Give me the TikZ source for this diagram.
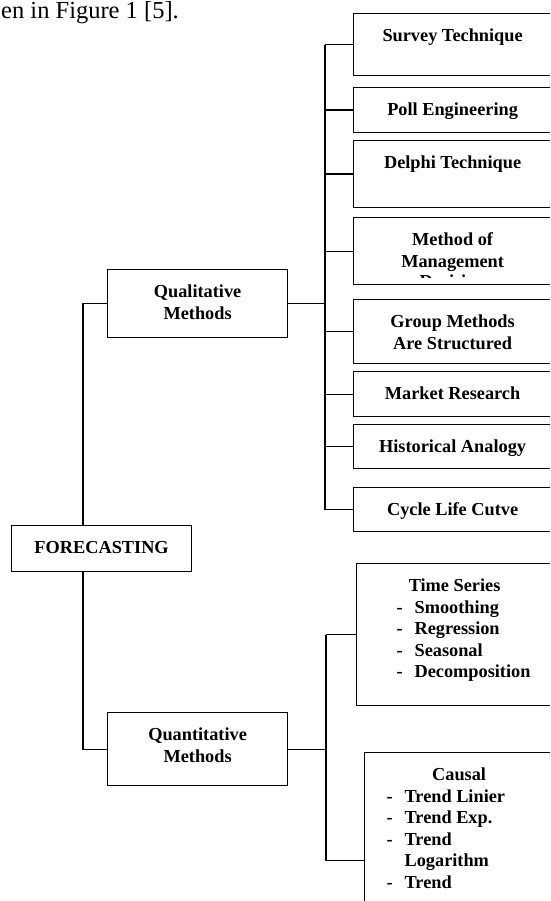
\documentclass[tikz,border=0pt]{standalone}
\usepackage{fontspec}
\setmainfont{Liberation Serif}
\usepackage{tikz}

\newcommand{\boxfont}{\fontsize{18.3}{21.5}\selectfont\bfseries}
\newcommand{\boxtext}[3]{\parbox[t][\dimexpr#2-26pt\relax][t]{#1}{\centering\strut#3}}
\newcommand{\listdash}{\leavevmode\llap{\makebox[18pt][l]{-}}}

\begin{document}
\begin{tikzpicture}[
  x=1pt,y=-1pt,
  catbox/.style={draw,line width=1.2pt,fill=white,anchor=north west,inner xsep=0pt,inner ysep=13pt,font=\boxfont},
  link/.style={line width=1.2pt}
]
  \useasboundingbox (0,0) rectangle (550,901);
  \clip (0,0) rectangle (550,901);

  \node[anchor=base west,inner sep=0pt,font=\fontsize{24.5}{29}\selectfont] (caption) at (1,19) {en in Figure 1 [5].};

  % root and the two groups
  \node[catbox] (fc) at (11,525) {\boxtext{180pt}{46pt}{FORECASTING}};
  \node[catbox] (qual) at (107,269) {\boxtext{180pt}{68pt}{Qualitative\\Methods}};
  \node[catbox] (quant) at (107,712) {\boxtext{180pt}{73pt}{Quantitative\\Methods}};

  % qualitative methods
  \node[catbox] (survey) at (353,13) {\boxtext{198pt}{62pt}{Survey Technique}};
  \node[catbox] (poll) at (353,87) {\boxtext{198pt}{45pt}{Poll Engineering}};
  \node[catbox] (delphi) at (353,140) {\boxtext{198pt}{67pt}{Delphi Technique}};
  \node[catbox] (method) at (353,217) {\boxtext{198pt}{67pt}{Method of\\Management}};
  \begin{scope}
    \clip (method.north west) rectangle ([yshift=8pt]method.south east);
    \node[anchor=base,inner sep=0pt,font=\boxfont] (methodrest) at ([yshift=-70pt]method.north) {Decision};
  \end{scope}
  \node[catbox] (group) at (353,299) {\boxtext{198pt}{64pt}{Group Methods\\Are Structured}};
  \node[catbox] (market) at (353,371) {\boxtext{198pt}{45pt}{Market Research}};
  \node[catbox] (history) at (353,424) {\boxtext{198pt}{44pt}{Historical Analogy}};
  \node[catbox] (cycle) at (353,487) {\boxtext{198pt}{44pt}{Cycle Life Cutve}};

  % quantitative methods
  \node[catbox] (timeser) at (356,563) {\boxtext{196pt}{142pt}{Time Series\par
    \raggedright\leftskip=58pt
    \listdash Smoothing\\\listdash Regression\\\listdash Seasonal\\\listdash Decomposition}};
  \node[catbox] (causal) at (364,752) {\boxtext{189pt}{216pt}{Causal\par
    \raggedright\leftskip=40pt
    \listdash Trend Linier\\\listdash Trend Exp.\\\listdash Trend\\Logarithm\\\listdash Trend}};

  \coordinate (trunk) at (83,548);
  \coordinate (qbus) at (325,0);
  \coordinate (nbus) at (326,0);

  \draw[link] (fc.north -| trunk) |- (qual.west);
  \draw[link] (fc.south -| trunk) |- (quant.west);

  \draw[link] (qual.east) -- (qual.east -| qbus);
  \draw[link] (survey.west -| qbus) -- (cycle.west -| qbus);
  \path[link]
    (survey.west -| qbus) edge (survey.west)
    (poll.west -| qbus) edge (poll.west)
    (delphi.west -| qbus) edge (delphi.west)
    (method.west -| qbus) edge (method.west)
    (group.west -| qbus) edge (group.west)
    (market.west -| qbus) edge (market.west)
    (history.west -| qbus) edge (history.west)
    (cycle.west -| qbus) edge (cycle.west);

  \draw[link] (quant.east) -- (quant.east -| nbus);
  \draw[link] (timeser.west -| nbus) -- (causal.west -| nbus);
  \path[link]
    (timeser.west -| nbus) edge (timeser.west)
    (causal.west -| nbus) edge (causal.west);
\end{tikzpicture}
\end{document}
